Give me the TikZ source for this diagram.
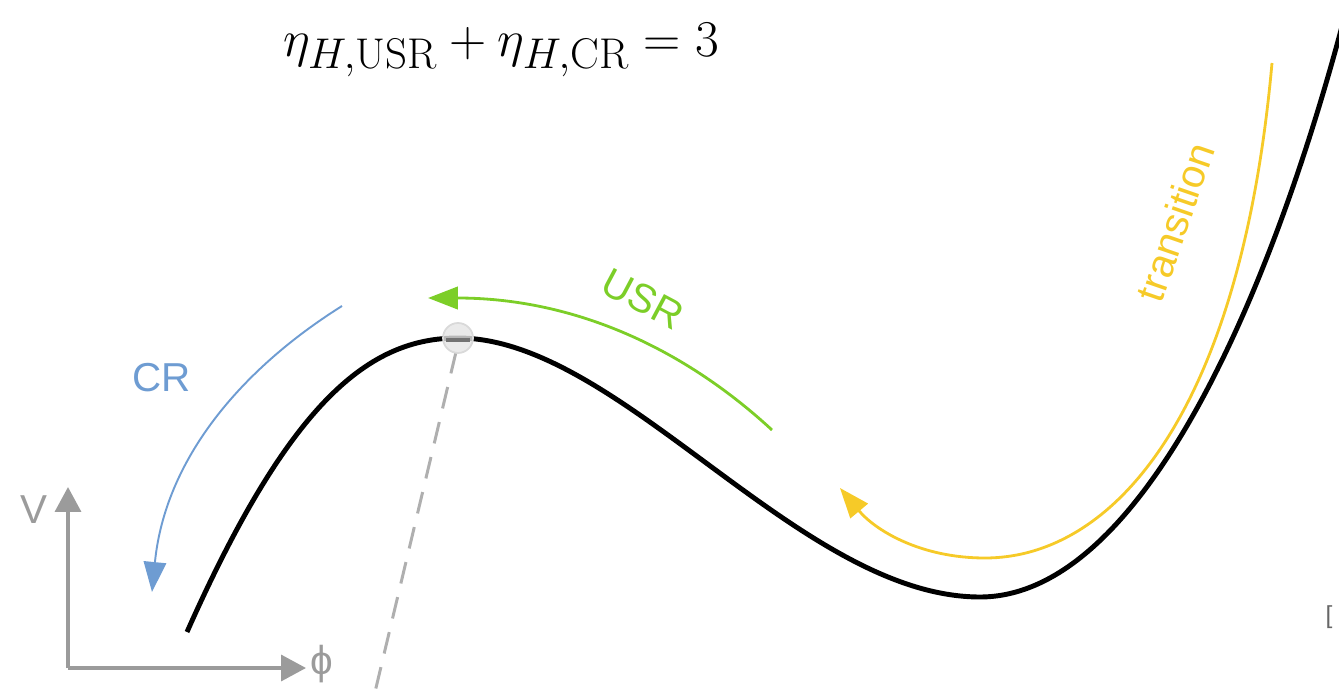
\documentclass[tikz,border=0pt]{standalone}
\usepackage{fontspec}
\newfontfamily\labelfont{Liberation Sans}
\usepackage{graphicx}
\usepackage{xcolor}
\usepackage{tikz}
\usetikzlibrary{arrows.meta, positioning}
\definecolor{usrgreen}{RGB}{124,206,40}
\definecolor{crblue}{RGB}{110,156,210}
\definecolor{transyellow}{RGB}{246,202,40}
\definecolor{axisgray}{RGB}{155,155,155}

\begin{document}
\begin{tikzpicture}[
  x=0.02cm, y=-0.02cm,
  potential/.style={line width=2.8pt, black},
  flow/.style={line width=1.6pt, -{Triangle[length=0.6cm, width=0.45cm]}},
  axis/.style={line width=2pt, axisgray, -{Triangle[length=0.5cm, width=0.52cm]}},
  lbl/.style={font=\labelfont\fontsize{23}{28}\selectfont, inner sep=0pt}
]
\useasboundingbox (0,0) rectangle (1339,692);

% Points
\coordinate (start) at (187,632);
\coordinate (peak) at (458,338);
\coordinate (valley) at (980,597);
\coordinate (exit) at (1345,15);
\coordinate (origin) at (68,668);
\coordinate (vtip) at (68,487);
\coordinate (phitip) at (306,668);
\coordinate (foot) at (375,692);

% Potential
\draw[potential] (start) .. controls (290,400) and (370,338) .. (peak)
  .. controls (620,338) and (800,597) .. (valley)
  .. controls (1140,597) and (1270,300) .. (exit);

% Axes
\draw[axis] (origin) -- (vtip);
\draw[axis] (origin) -- (phitip);
\node[lbl, text=axisgray] (vlabel) at (34,510) {V};
\node[lbl, text=axisgray] (philabel) at (322,664) {ϕ};

% Peak marker
\draw[axisgray!80, line width=1.7pt, dash pattern=on 0.44cm off 0.28cm] (peak) ++(-2,14) -- (foot);
\node[circle, draw=black!15, fill=black!10, fill opacity=0.8, minimum size=0.6cm, line width=1pt] (marker) at (peak) {};
\draw[black!55, line width=2.6pt] (marker.west) ++(4,2) -- ++(24,0);

% Arrows
\coordinate (usr1) at (772,430);
\coordinate (usr2) at (428,298);
\draw[flow, usrgreen] (usr1) .. controls (680,345) and (570,298) .. (usr2);
\node[lbl, text=usrgreen, rotate=-28] (usr) at (643,299) {USR};

\coordinate (cr1) at (342,306);
\coordinate (cr2) at (152,592);
\draw[flow, crblue, line width=1.1pt] (cr1) .. controls (240,370) and (165,460) .. (cr2);
\node[lbl, text=crblue] (cr) at (162,378) {CR};

\coordinate (tr1) at (1272,63);
\coordinate (tr2) at (840,488);
\draw[flow, transyellow] (tr1) .. controls (1240,420) and (1110,558) .. (985,558)
  .. controls (920,558) and (875,530) .. (tr2);
\node[lbl, text=transyellow, rotate=71] (trans) at (1175,222) {transition};

% Equation
\node[font=\fontsize{24.88}{30}\selectfont] (eq) at (501,50) {\scalebox{1.18}{$\eta_{H,\mathrm{USR}}+\eta_{H,\mathrm{CR}}=3$}};

\node[font=\labelfont\fontsize{14}{16}\selectfont, text=black!60, inner sep=0pt] (br) at (1329,617) {[};
\end{tikzpicture}
\end{document}
